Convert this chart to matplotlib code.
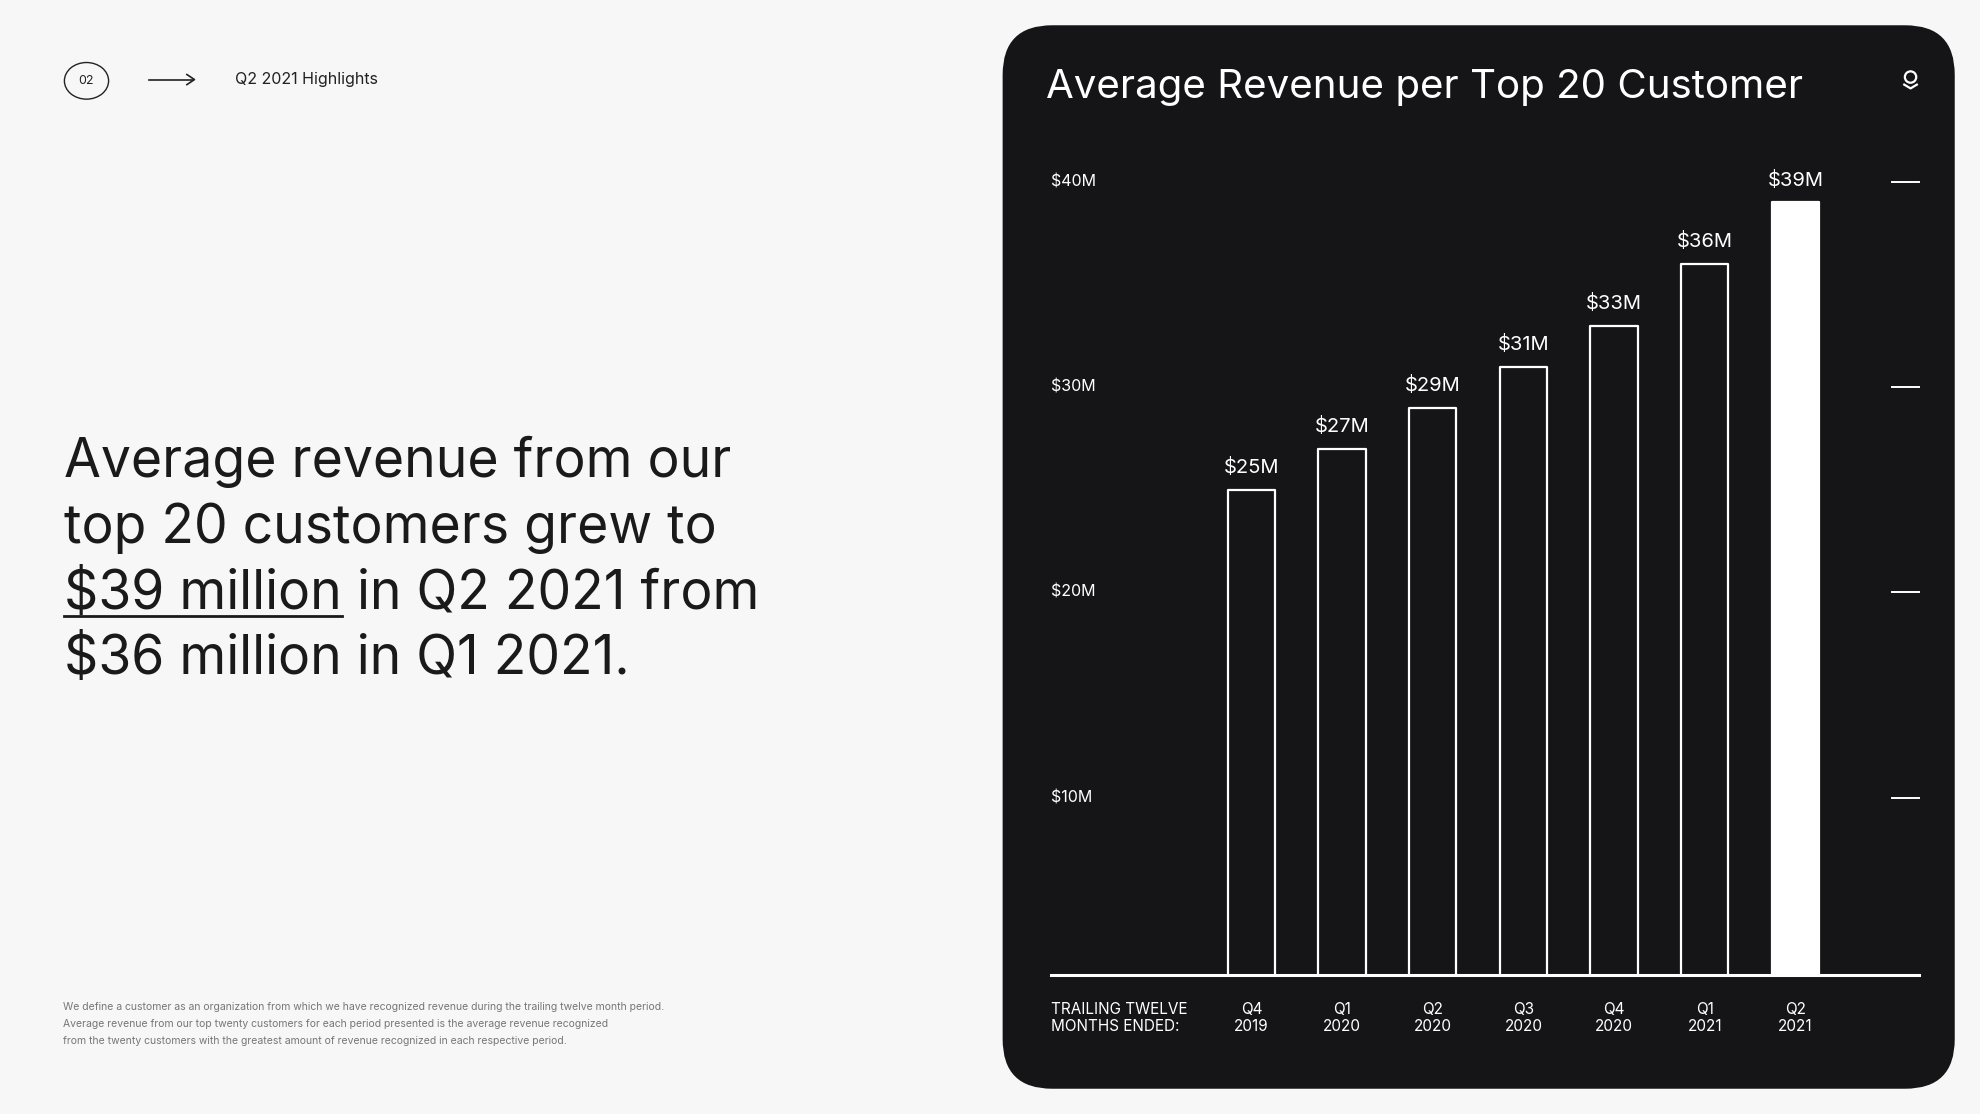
import matplotlib.pyplot as plt
from matplotlib.patches import FancyBboxPatch, Ellipse
from matplotlib.lines import Line2D

periods = ["Q4\n2019", "Q1\n2020", "Q2\n2020", "Q3\n2020", "Q4\n2020", "Q1\n2021", "Q2\n2021"]
revenue = [25, 27, 29, 31, 33, 36, 39]
value_labels = ["$25M", "$27M", "$29M", "$31M", "$33M", "$36M", "$39M"]
y_ticks = [10, 20, 30, 40]
y_tick_labels = ["$10M", "$20M", "$30M", "$40M"]

W, H = 1568.0, 882.0  # layout units (reference measured at this scale)
BG = "#f7f7f7"
DARK = "#151518"
FONT = ["Inter", "DejaVu Sans"]


def fx(x):
    return x / W


def fy(y):
    return 1 - y / H


fig = plt.figure(figsize=(19.8, 11.14), dpi=100, facecolor=BG)

# dark card
card = FancyBboxPatch((fx(794), fy(862)), fx(1548 - 794), (862 - 20) / H,
                      boxstyle="round,pad=0,rounding_size=0.025",
                      transform=fig.transFigure, facecolor=DARK, edgecolor="none",
                      mutation_aspect=1980 / 1114, zorder=-5)
fig.patches.append(card)

# header
fig.patches.append(Ellipse((fx(68.5), fy(64)), fx(35), 29 / H, transform=fig.transFigure,
                           facecolor="none", edgecolor="#222", lw=1.0))
fig.text(fx(68.5), fy(64), "02", ha="center", va="center", fontsize=9, color="#222", family=FONT)
fig.add_artist(Line2D([fx(118), fx(153)], [fy(63), fy(63)], color="#222", lw=1.2, transform=fig.transFigure))
fig.add_artist(Line2D([fx(148), fx(154), fx(148)], [fy(59), fy(63), fy(67)], color="#222", lw=1.2,
                      transform=fig.transFigure))
fig.text(fx(186), fy(63), "Q2 2021 Highlights", ha="left", va="center", fontsize=11.5, color="#222",
         family=FONT)

# headline
big = dict(fontsize=38.5, color="#1a1a1a", family=FONT, va="baseline", ha="left")
fig.text(fx(51), fy(378), "Average revenue from our", **big)
fig.text(fx(51), fy(430), "top 20 customers grew to", **big)
t1 = fig.text(fx(51), fy(482), "$39 million", **big)
fig.text(fx(51), fy(534), "$36 million in Q1 2021.", **big)
r = fig.canvas.get_renderer()
bb = t1.get_window_extent(r).transformed(fig.transFigure.inverted())
fig.text(bb.x1, fy(482), " in Q2 2021 from", **big)
fig.add_artist(Line2D([bb.x0, bb.x1], [fy(488), fy(488)], color="#1a1a1a", lw=2,
                      transform=fig.transFigure))

# footnote
foot = ["We define a customer as an organization from which we have recognized revenue during the trailing twelve month period.",
        "Average revenue from our top twenty customers for each period presented is the average revenue recognized",
        "from the twenty customers with the greatest amount of revenue recognized in each respective period."]
for i, line in enumerate(foot):
    fig.text(fx(50), fy(797 + 13.5 * i), line, fontsize=7.5, color="#777", va="center", family=FONT)

# title + logo
fig.text(fx(828), fy(69), "Average Revenue per Top 20 Customer", fontsize=29, color="white",
         va="center", ha="left", family=FONT)
fig.patches.append(Ellipse((fx(1513), fy(61)), fx(9), 9 / H * 1.0, transform=fig.transFigure,
                           facecolor="none", edgecolor="white", lw=1.6))
fig.add_artist(Line2D([fx(1508), fx(1513), fx(1518)], [fy(67), fy(70), fy(67)], color="white", lw=1.6,
                      transform=fig.transFigure))

# chart axes
zero_px, per10 = 794.0, 162.5
base_px, top_px = 772.0, 120.0
left_px, right_px = 832.0, 1520.0
ax = fig.add_axes([fx(left_px), fy(base_px), fx(right_px - left_px), (base_px - top_px) / H])
ax.set_facecolor("none")
ax.set_ylim((zero_px - base_px) / per10 * 10, (zero_px - top_px) / per10 * 10)
spacing = 71.8
ax.set_xlim((left_px - 991) / spacing, (right_px - 991) / spacing)
for s in ax.spines.values():
    s.set_visible(False)
ax.set_xticks([])
ax.set_yticks([])
ax.axhline(ax.get_ylim()[0], color="white", lw=2.2, clip_on=False)

xs = list(range(len(revenue)))
for i, (x, v) in enumerate(zip(xs, revenue)):
    last = i == len(revenue) - 1
    ax.bar(x, v, width=0.52, bottom=0, facecolor="white" if last else "none",
           edgecolor="white", lw=1.6, joinstyle="round")
    ax.annotate(value_labels[i], (x, v), xytext=(0, 9), textcoords="offset points",
                ha="center", va="bottom", color="white", fontsize=14.5, family=FONT)

xmin, xmax = ax.get_xlim()
for t, lab in zip(y_ticks, y_tick_labels):
    ax.text(xmin, t, lab, ha="left", va="center", color="white", fontsize=11.5, family=FONT)
    ax.plot([(1498 - 991) / spacing, xmax], [t, t], color="white", lw=1.4, clip_on=False)

# bottom labels
for x, p in zip(xs, periods):
    fig.text(fx(991 + x * spacing), fy(806), p, ha="center", va="center", color="white",
             fontsize=11, family=FONT, linespacing=1.15)
fig.text(fx(832), fy(806), "TRAILING TWELVE\nMONTHS ENDED:", ha="left", va="center", color="white",
         fontsize=11, family=FONT, linespacing=1.15)

fig.savefig("out.png", dpi=100, facecolor=BG)
